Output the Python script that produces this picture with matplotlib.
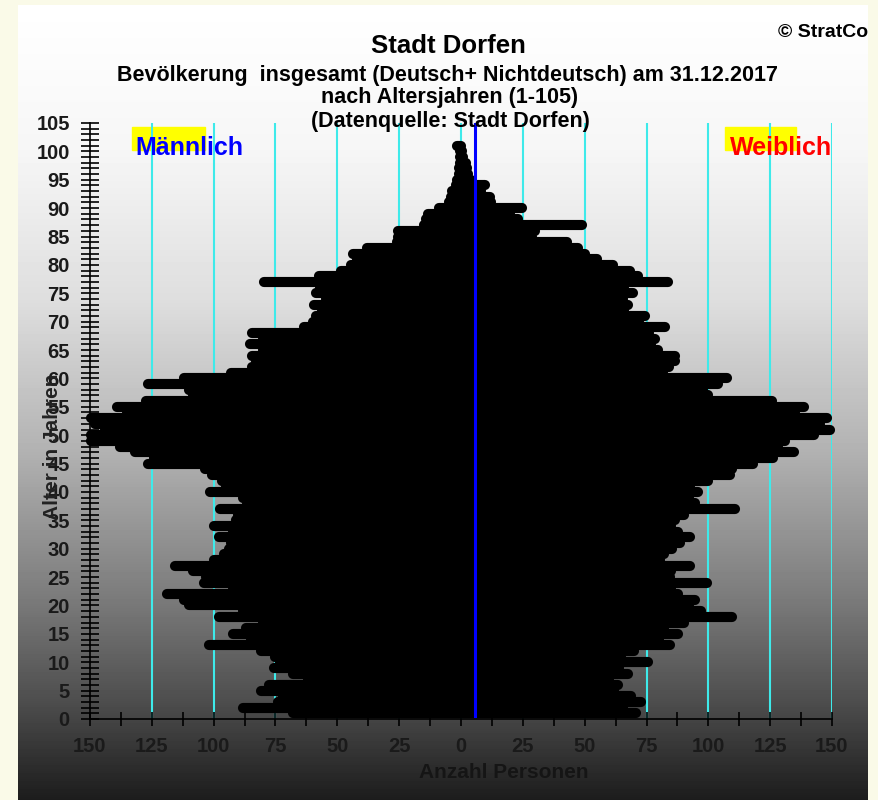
import numpy as np
import matplotlib
matplotlib.use("Agg")
import matplotlib.pyplot as plt
from matplotlib.patches import Rectangle

plt.rcParams['font.family'] = ['Liberation Sans', 'DejaVu Sans']
plt.rcParams['font.weight'] = 'bold'

# Altersjahre 1..101 (Position im Diagramm)
alter = np.arange(1, 102)

maennlich = [
    68, 88, 74, 72, 81, 77.5, 62, 68, 75.5, 73,
    75, 81, 102, 85, 92, 87, 80, 98, 88, 110,
    112, 119, 92, 104, 103, 108.5, 115.5, 100, 96, 94,
    93, 98, 92, 100, 91, 90, 97.5, 86.5, 88, 101.5,
    95, 96.5, 100.5, 103.5, 126.5, 124, 132, 138, 149.5, 149.5,
    144, 148, 149.5, 135, 139, 127.5, 108.5, 110, 126.5, 112,
    93, 84.5, 83, 84.5, 80, 85.5, 80, 84.5, 63.5, 60,
    58.5, 56, 59.5, 54.5, 58.5, 57, 79.5, 57.5, 48.5, 44.5,
    42, 43.5, 38, 26, 25.5, 25.5, 15, 14, 13.5, 9,
    5, 4, 3.5, 2, 1.5, 1, 0.7, 0.5, 0.3, 0.3,
    1.5,
]

weiblich = [
    70.8, 65.7, 72.8, 68.8, 62, 63.6, 60, 67.7, 64, 75.8,
    64.7, 70, 84.5, 80, 87.6, 82, 90, 109.7, 97, 92,
    94.6, 87.6, 85, 99.6, 84.5, 85, 92.6, 80.3, 82, 85.5,
    88.6, 92.6, 87.6, 85, 86.6, 90, 110.8, 94.6, 92, 95.7,
    92.6, 100, 108.8, 109.5, 118, 126, 134.8, 128, 131, 142.9,
    149.2, 145, 147.9, 135, 138.8, 125.7, 100, 98, 104, 107.7,
    81.8, 84, 86.6, 86.6, 79.8, 77, 78.5, 76, 82.5, 72,
    74.4, 66, 67.7, 65.7, 69.7, 66, 83.6, 71.7, 68.4, 61.6,
    54.9, 50, 47.5, 42.8, 28.6, 30, 48.8, 23.2, 20, 24.8,
    12, 11.7, 8, 9.7, 4, 3, 2.5, 2, 1, 0.5,
    0,
]

mittel_linie = 5.7
x_ticks = np.arange(-150, 151, 25)
y_ticks = np.arange(0, 106, 5)

W, H = 879, 800
fig = plt.figure(figsize=(W / 100, H / 100), dpi=100, facecolor='#FAFAE8')


def px(x0, y0, x1, y1):
    return [x0 / W, 1 - y1 / H, (x1 - x0) / W, (y1 - y0) / H]


# Hintergrund mit Verlauf
bg = fig.add_axes(px(18, 5, 868, 800), zorder=0)
rows = np.arange(5, 800)
grey = np.interp(rows, [5, 150, 300, 450, 600, 700, 800],
                 [255, 246, 222, 178, 122, 78, 28]) / 255
bg.imshow(np.repeat(grey[:, None], 4, axis=1), cmap='gray', vmin=0, vmax=1,
          aspect='auto', extent=[0, 1, 0, 1], interpolation='nearest')
bg.set_xlim(0, 1)
bg.set_ylim(0, 1)
bg.axis('off')
bg.text(0.894, 0.966, '© StratCom', transform=bg.transAxes, fontsize=14,
        ha='left', va='center', color='black', clip_on=True)

ax = fig.add_axes(px(90, 123, 832, 719), zorder=2)
ax.set_facecolor('none')
ax.set_xlim(-150, 150)
ax.set_ylim(0, 105)

ax.vlines(x_ticks[1:], 0, 105, color='#3EEAEA', lw=1.5, zorder=1)

for a, m, f in zip(alter, maennlich, weiblich):
    ax.plot([0, -m], [a, a], color='black', lw=7.3, solid_capstyle='round',
            zorder=2, clip_on=False)
    ax.plot([0, f], [a, a], color='black', lw=7.3, solid_capstyle='round',
            zorder=2, clip_on=False)

ax.plot([mittel_linie, mittel_linie], [0.5, 105], color='#0000FF', lw=2.2, zorder=3)

for s in ['top', 'right']:
    ax.spines[s].set_visible(False)
for s in ['left', 'bottom']:
    ax.spines[s].set_color('black')
    ax.spines[s].set_linewidth(1.2)

ax.set_xticks(x_ticks)
ax.set_xticklabels([str(abs(v)) for v in x_ticks])
ax.set_xticks(np.arange(-137.5, 150, 25), minor=True)
ax.set_yticks(y_ticks)
ax.set_yticks(np.arange(0, 106, 1), minor=True)
ax.tick_params(axis='x', which='both', direction='inout', length=10, width=1.2,
               labelsize=14.5, pad=8, labelcolor='#1a1a1a')
ax.tick_params(axis='y', which='both', direction='inout', length=13, width=1.2,
               labelsize=14.5, pad=8, labelcolor='#1a1a1a')

fig.text(53 / W, 1 - 447 / H, 'Alter in Jahren', rotation=90, ha='center',
         va='center', fontsize=15, color='#222222', zorder=5)
fig.text(504 / W, 1 - 773 / H, 'Anzahl Personen', ha='center', va='center',
         fontsize=15, color='#151515', zorder=5)

fig.text(448 / W, 1 - 46 / H, 'Stadt Dorfen', ha='center', va='center',
         fontsize=18.5, zorder=5)
fig.text(448 / W, 1 - 75 / H, 'Bevölkerung  insgesamt (Deutsch+ Nichtdeutsch) am 31.12.2017',
         ha='center', va='center', fontsize=15.5, zorder=5)
fig.text(450 / W, 1 - 98 / H, 'nach Altersjahren (1-105)', ha='center', va='center',
         fontsize=15.5, zorder=5)
fig.text(450 / W, 1 - 122 / H, '(Datenquelle: Stadt Dorfen)', ha='center', va='center',
         fontsize=15.5, zorder=5)

fig.patches.append(Rectangle((132 / W, 1 - 150 / H), 73 / W, 23 / H,
                             transform=fig.transFigure, color='#FFFF00', zorder=1))
fig.patches.append(Rectangle((725 / W, 1 - 150 / H), 71 / W, 23 / H,
                             transform=fig.transFigure, color='#FFFF00', zorder=1))
fig.text(135 / W, 1 - 148 / H, 'Männlich', ha='left', va='center', fontsize=18,
         color='#0000FF', zorder=5)
fig.text(730 / W, 1 - 148 / H, 'Weiblich', ha='left', va='center', fontsize=18,
         color='#FF0000', zorder=5)

fig.savefig('out.png', dpi=100, facecolor=fig.get_facecolor())
